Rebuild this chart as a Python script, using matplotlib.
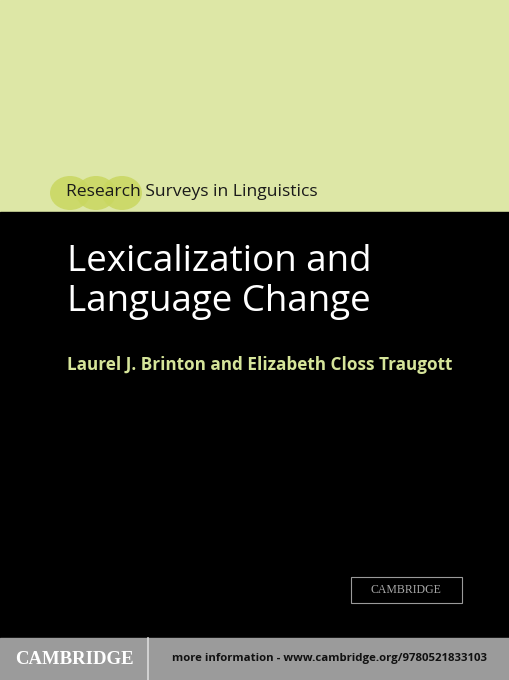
import matplotlib
matplotlib.use('Agg')
import matplotlib.pyplot as plt
from matplotlib.patches import Rectangle, Ellipse

series_name = 'Research Surveys in Linguistics'
title_lines = ['Lexicalization and', 'Language Change']
authors = 'Laurel J. Brinton and Elizabeth Closs Traugott'
publisher = 'CAMBRIDGE'
more_info = 'more information - www.cambridge.org/9780521833103'

fig = plt.figure(figsize=(5.1, 6.8), dpi=100)
ax = fig.add_axes([0, 0, 1, 1])
ax.set_xlim(0, 510)
ax.set_ylim(680, 0)
ax.axis('off')

# background bands
ax.add_patch(Rectangle((0, 0), 510, 212, color='#dde7a6'))
ax.add_patch(Rectangle((0, 212), 510, 426, color='black'))
ax.add_patch(Rectangle((0, 638), 510, 42, color='#9b9b9b'))
ax.plot([148, 148], [638, 680], color='#dcdcdc', lw=1.2)

# blob behind series name
for cx in [70, 96, 122]:
    ax.add_patch(Ellipse((cx, 193), 40, 34, color='#c9d760', alpha=0.85, lw=0))

ax.text(66, 192, series_name, fontsize=12.6, family='Open Sans', color='#1a1a1a',
        va='center', ha='left')
ax.text(67, 262, title_lines[0], fontsize=26.5, family='Open Sans', color='white',
        va='center', ha='left')
ax.text(67, 302, title_lines[1], fontsize=26.5, family='Open Sans', color='white',
        va='center', ha='left')
ax.text(67, 365, authors, fontsize=12.3, family='Open Sans', weight='bold',
        color='#d6e59a', va='center', ha='left')

# publisher box
ax.add_patch(Rectangle((351, 577), 111, 26, fill=False, ec='#9a9a9a', lw=0.8))
ax.text(406, 590, publisher, fontsize=8.5, family='Liberation Serif', color='#a8a8a8',
        va='center', ha='center')

ax.text(74, 659, publisher, fontsize=13.5, family='Liberation Serif', color='white',
        weight='bold', va='center', ha='center')
ax.text(172, 659, more_info, fontsize=8.2, family='Open Sans', weight='bold',
        color='#111111', va='center', ha='left')

fig.savefig('out.png', dpi=100)
